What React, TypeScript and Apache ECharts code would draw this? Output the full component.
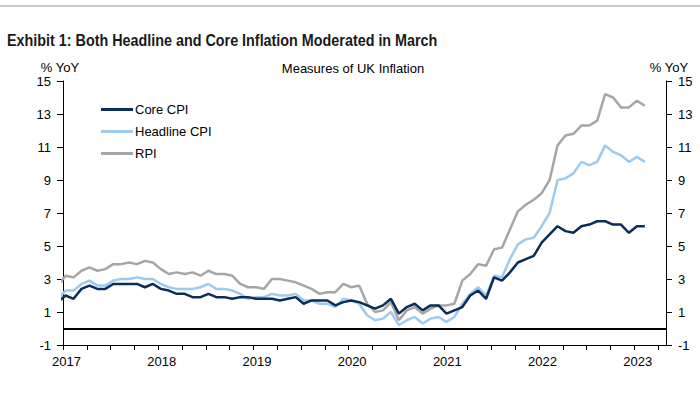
import React, { useEffect, useRef } from "react";
import * as echarts from "echarts";

// Monthly data, Jan 2017 .. Mar 2023 (% YoY)
const yearLabels = ["2017", "2018", "2019", "2020", "2021", "2022", "2023"];

const coreCPI = [
  1.6, 2.0, 1.8, 2.4, 2.6, 2.4, 2.4, 2.7, 2.7, 2.7, 2.7, 2.5,
  2.7, 2.4, 2.3, 2.1, 2.1, 1.9, 1.9, 2.1, 1.9, 1.9, 1.8, 1.9,
  1.9, 1.8, 1.8, 1.8, 1.7, 1.8, 1.9, 1.5, 1.7, 1.7, 1.7, 1.4,
  1.6, 1.7, 1.6, 1.4, 1.2, 1.4, 1.8, 0.9, 1.3, 1.5, 1.1, 1.4,
  1.4, 0.9, 1.1, 1.3, 2.0, 2.3, 1.8, 3.1, 2.9, 3.4, 4.0, 4.2,
  4.4, 5.2, 5.7, 6.2, 5.9, 5.8, 6.2, 6.3, 6.5, 6.5, 6.3, 6.3,
  5.8, 6.2, 6.2,
];

const headlineCPI = [
  1.8, 2.3, 2.3, 2.7, 2.9, 2.6, 2.6, 2.9, 3.0, 3.0, 3.1, 3.0,
  3.0, 2.7, 2.5, 2.4, 2.4, 2.4, 2.5, 2.7, 2.4, 2.4, 2.3, 2.1,
  1.8, 1.9, 1.9, 2.1, 2.0, 2.0, 2.1, 1.7, 1.7, 1.5, 1.5, 1.3,
  1.8, 1.7, 1.5, 0.8, 0.5, 0.6, 1.0, 0.2, 0.5, 0.7, 0.3, 0.6,
  0.7, 0.4, 0.7, 1.5, 2.1, 2.5, 2.0, 3.2, 3.1, 4.2, 5.1, 5.4,
  5.5, 6.2, 7.0, 9.0, 9.1, 9.4, 10.1, 9.9, 10.1, 11.1, 10.7, 10.5,
  10.1, 10.4, 10.1,
];

const rpi = [
  2.6, 3.2, 3.1, 3.5, 3.7, 3.5, 3.6, 3.9, 3.9, 4.0, 3.9, 4.1,
  4.0, 3.6, 3.3, 3.4, 3.3, 3.4, 3.2, 3.5, 3.3, 3.3, 3.2, 2.7,
  2.5, 2.5, 2.4, 3.0, 3.0, 2.9, 2.8, 2.6, 2.4, 2.1, 2.2, 2.2,
  2.7, 2.5, 2.6, 1.5, 1.0, 1.1, 1.6, 0.5, 1.1, 1.3, 0.9, 1.2,
  1.4, 1.4, 1.5, 2.9, 3.3, 3.9, 3.8, 4.8, 4.9, 6.0, 7.1, 7.5,
  7.8, 8.2, 9.0, 11.1, 11.7, 11.8, 12.3, 12.3, 12.6, 14.2, 14.0, 13.4,
  13.4, 13.8, 13.5,
];

// months on the x axis (0 = Jan 2017); points sit slightly before the month tick
const POINT_SHIFT = -0.67;
const toPoints = (arr: number[]) => arr.map((v, i) => [i + POINT_SHIFT, v]);

const FONT = "Liberation Sans, Arial, sans-serif";

export default function App() {
  const ref = useRef<HTMLDivElement>(null);
  useEffect(() => {
    if (!ref.current) return;
    const chart = echarts.init(ref.current, null, { renderer: "svg" });
    const yAxisBase = {
      type: "value" as const,
      min: -1,
      max: 15,
      interval: 2,
      splitLine: { show: false },
      axisLine: { show: true, lineStyle: { color: "#000", width: 1 } },
      axisTick: { show: true, length: 6, lineStyle: { color: "#000" } },
      axisLabel: { color: "#000", fontSize: 13, fontFamily: FONT, margin: 12 },
    };
    chart.setOption({
      animation: false,
      backgroundColor: "#fff",
      textStyle: { fontFamily: FONT },
      grid: { left: 63, right: 34, top: 81, bottom: 49, containLabel: false },
      legend: {
        orient: "vertical",
        left: 96,
        top: 98,
        icon: "rect",
        itemWidth: 32,
        itemHeight: 3,
        itemGap: 9,
        data: ["Core CPI", "Headline CPI", "RPI"],
        textStyle: { color: "#000", fontSize: 13, fontFamily: FONT, padding: [0, 0, 0, -3] },
      },
      xAxis: {
        type: "value",
        min: 0,
        max: 76,
        interval: 3,
        splitLine: { show: false },
        axisLine: { show: true, onZero: false, lineStyle: { color: "#000", width: 1 } },
        axisTick: { show: true, length: 5, lineStyle: { color: "#000" } },
        axisLabel: {
          color: "#000",
          fontSize: 13,
          fontFamily: FONT,
          margin: 10,
          padding: [0, 0, 0, 7],
          showMaxLabel: false,
          formatter: (v: number) => {
            if (Math.abs(v % 12) > 1e-6) return "";
            const k = Math.round(v / 12);
            return yearLabels[k] ?? "";
          },
        },
      },
      yAxis: [
        { ...yAxisBase, position: "left" },
        { ...yAxisBase, position: "right" },
      ],
      series: [
        {
          name: "RPI",
          type: "line",
          data: toPoints(rpi),
          showSymbol: false,
          symbol: "none",
          itemStyle: { color: "#a6a6a6" },
          lineStyle: { color: "#a6a6a6", width: 2.5 },
        },
        {
          name: "Headline CPI",
          type: "line",
          data: toPoints(headlineCPI),
          showSymbol: false,
          symbol: "none",
          itemStyle: { color: "#9dcbef" },
          lineStyle: { color: "#9dcbef", width: 2.5 },
        },
        {
          name: "Core CPI",
          type: "line",
          data: toPoints(coreCPI),
          showSymbol: false,
          symbol: "none",
          itemStyle: { color: "#0a2d5a" },
          lineStyle: { color: "#0a2d5a", width: 2.5 },
          markLine: {
            silent: true,
            symbol: ["none", "none"],
            label: { show: false },
            lineStyle: { color: "#000", width: 2, type: "solid" },
            data: [{ yAxis: 0 }],
          },
        },
      ],
      graphic: [
        {
          type: "line",
          shape: { x1: 0, y1: 6, x2: 700, y2: 6 },
          style: { stroke: "#c8c8c8", lineWidth: 2 },
        },
        {
          type: "text",
          x: 7,
          y: 32,
          scaleX: 0.87,
          style: {
            text: "Exhibit 1: Both Headline and Core Inflation Moderated in March",
            fontFamily: "Liberation Sans Narrow, Arial Narrow, Liberation Sans, sans-serif",
            fontWeight: "bold",
            fontSize: 16.5,
            fill: "#1a1a1a",
            textVerticalAlign: "alphabetic",
          },
        },
        {
          type: "text",
          x: 353,
          y: 68,
          style: {
            text: "Measures of UK Inflation",
            fontFamily: FONT,
            fontSize: 13,
            fill: "#000",
            textAlign: "center",
            textVerticalAlign: "middle",
          },
        },
        {
          type: "text",
          x: 60,
          y: 67,
          style: {
            text: "% YoY",
            fontFamily: FONT,
            fontSize: 13,
            fill: "#000",
            textAlign: "center",
            textVerticalAlign: "middle",
          },
        },
        {
          type: "text",
          x: 669,
          y: 67,
          style: {
            text: "% YoY",
            fontFamily: FONT,
            fontSize: 13,
            fill: "#000",
            textAlign: "center",
            textVerticalAlign: "middle",
          },
        },
      ],
    });
    return () => chart.dispose();
  }, []);
  return (
    <div
      ref={ref}
      style={{ position: "absolute", left: 0, top: 0, width: 700, height: 394, background: "#fff" }}
    />
  );
}
